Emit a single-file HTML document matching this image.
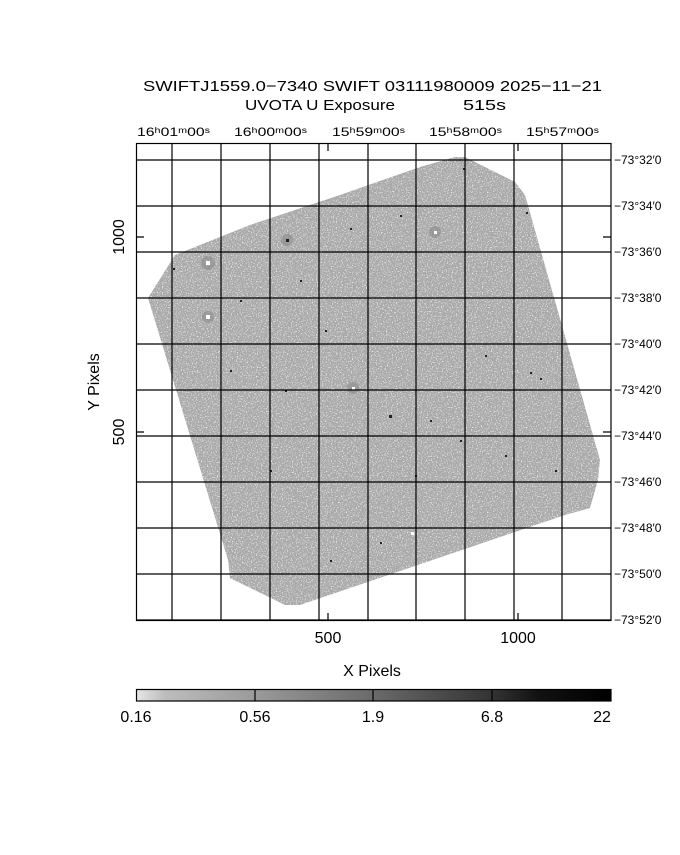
<!DOCTYPE html>
<html><head><meta charset="utf-8"><style>
html,body{margin:0;padding:0;background:#fff}
svg text{font-family:"Liberation Sans",sans-serif;fill:#000}
</style></head><body>
<svg width="680" height="850" viewBox="0 0 680 850" xmlns="http://www.w3.org/2000/svg">
<defs>
<filter id="n" x="0" y="0" width="100%" height="100%">
<feTurbulence type="fractalNoise" baseFrequency="0.8" numOctaves="2" seed="3"/>
<feColorMatrix type="matrix" values="0 0 0 0 0.88  0 0 0 0 0.88  0 0 0 0 0.88  4 0 0 0 -2.1"/>
</filter>
<clipPath id="img"><polygon points="148,298 175,255 250,225 340,195 420,167 455,157 465,157 515,182 525,195 600,460 598,480 590,508 565,515 300,605 285,605 230,578 228,560"/></clipPath>
<linearGradient id="cb" x1="0" x2="1" y1="0" y2="0">
<stop offset="0" stop-color="#e6e6e6"/><stop offset="0.06" stop-color="#bdbdbd"/><stop offset="0.25" stop-color="#9a9a9a"/><stop offset="0.5" stop-color="#6a6a6a"/><stop offset="0.75" stop-color="#333"/><stop offset="0.85" stop-color="#111"/><stop offset="1" stop-color="#000"/>
</linearGradient>
</defs>
<text x="143" y="91" font-size="15" textLength="459" lengthAdjust="spacingAndGlyphs">SWIFTJ1559.0−7340 SWIFT 03111980009 2025−11−21</text>
<text x="245" y="110" font-size="15" textLength="150" lengthAdjust="spacingAndGlyphs">UVOTA U Exposure</text>
<text x="463" y="110" font-size="15" textLength="43" lengthAdjust="spacingAndGlyphs">515s</text>
<g clip-path="url(#img)">
<rect x="136" y="143" width="475" height="478" fill="#a9a9a9"/>
<rect x="136" y="143" width="475" height="478" filter="url(#n)"/>
</g>
<g fill="#222">
<circle cx="208" cy="263" r="7" fill="#8a8a8a" opacity="0.6"/><rect x="206" y="261" width="4" height="4" fill="#fff"/>
<circle cx="208" cy="317" r="6" fill="#8a8a8a" opacity="0.6"/><rect x="206" y="315" width="4" height="4" fill="#fff"/>
<circle cx="287" cy="240" r="6" fill="#8a8a8a" opacity="0.6"/><rect x="286" y="239" width="3" height="3"/>
<circle cx="435" cy="232" r="6" fill="#8a8a8a" opacity="0.6"/><rect x="434" y="231" width="3" height="3" fill="#fff"/>
<circle cx="353" cy="388" r="6" fill="#8a8a8a" opacity="0.6"/><rect x="352" y="387" width="3" height="3" fill="#fff"/>
<rect x="389" y="415" width="3" height="3"/><rect x="411" y="532" width="3" height="3" fill="#fff"/>
<rect x="463" y="168" width="2" height="2"/><rect x="526" y="212" width="2" height="2"/><rect x="173" y="268" width="2" height="2"/>
<rect x="325" y="330" width="2" height="2"/><rect x="485" y="355" width="2" height="2"/><rect x="530" y="372" width="2" height="2"/>
<rect x="540" y="378" width="2" height="2"/><rect x="380" y="542" width="2" height="2"/><rect x="330" y="560" width="2" height="2"/>
<rect x="270" y="470" width="2" height="2"/><rect x="430" y="420" width="2" height="2"/><rect x="460" y="440" width="2" height="2"/>
<rect x="350" y="228" width="2" height="2"/><rect x="400" y="215" width="2" height="2"/><rect x="240" y="300" width="2" height="2"/>
<rect x="300" y="280" width="2" height="2"/><rect x="505" y="455" width="2" height="2"/><rect x="555" y="470" width="2" height="2"/>
<rect x="230" y="370" width="2" height="2"/><rect x="285" y="390" width="2" height="2"/><rect x="415" y="475" width="2" height="2"/>
</g>
<g stroke="#000" stroke-width="1.2" fill="none">
<rect x="136.5" y="143.5" width="474.5" height="477"/>
<path d="M172 143V621M221 143V621M270 143V621M319 143V621M368 143V621M416 143V621M465 143V621M514 143V621M562 143V621"/>
<path d="M136 160H611M136 206H611M136 252H611M136 298H611M136 344H611M136 390H611M136 436H611M136 482H611M136 528H611M136 574H611M136 620H611"/>
<path d="M328 143v8M518 143v8M328 621v-8M518 621v-8M136 237h8M136 432h8M611 237h-8M611 432h-8"/>
<rect x="136.5" y="689.5" width="474.5" height="11.5" fill="url(#cb)"/>
<path d="M255 689v12M373 689v12M492 689v12"/>
</g>
<g font-size="12">
<text x="137" y="136" textLength="73" lengthAdjust="spacingAndGlyphs">16ʰ01ᵐ00ˢ</text>
<text x="234" y="136" textLength="73" lengthAdjust="spacingAndGlyphs">16ʰ00ᵐ00ˢ</text>
<text x="332" y="136" textLength="73" lengthAdjust="spacingAndGlyphs">15ʰ59ᵐ00ˢ</text>
<text x="429" y="136" textLength="73" lengthAdjust="spacingAndGlyphs">15ʰ58ᵐ00ˢ</text>
<text x="526" y="136" textLength="73" lengthAdjust="spacingAndGlyphs">15ʰ57ᵐ00ˢ</text>
</g>
<g font-size="12">
<text x="614" y="164">−73°32′0</text><text x="614" y="210">−73°34′0</text><text x="614" y="256">−73°36′0</text>
<text x="614" y="302">−73°38′0</text><text x="614" y="348">−73°40′0</text><text x="614" y="394">−73°42′0</text>
<text x="614" y="440">−73°44′0</text><text x="614" y="486">−73°46′0</text><text x="614" y="532">−73°48′0</text>
<text x="614" y="578">−73°50′0</text><text x="614" y="624">−73°52′0</text>
</g>
<g font-size="16">
<text x="328" y="643" text-anchor="middle">500</text>
<text x="518" y="643" text-anchor="middle">1000</text>
<text transform="translate(124,237) rotate(-90)" text-anchor="middle">1000</text>
<text transform="translate(124,432) rotate(-90)" text-anchor="middle">500</text>
<text transform="translate(99,382) rotate(-90)" text-anchor="middle">Y Pixels</text>
<text x="372" y="676" text-anchor="middle">X Pixels</text>
<text x="136" y="722" text-anchor="middle">0.16</text>
<text x="255" y="722" text-anchor="middle">0.56</text>
<text x="373" y="722" text-anchor="middle">1.9</text>
<text x="492" y="722" text-anchor="middle">6.8</text>
<text x="602" y="722" text-anchor="middle">22</text>
</g>
</svg>
</body></html>
